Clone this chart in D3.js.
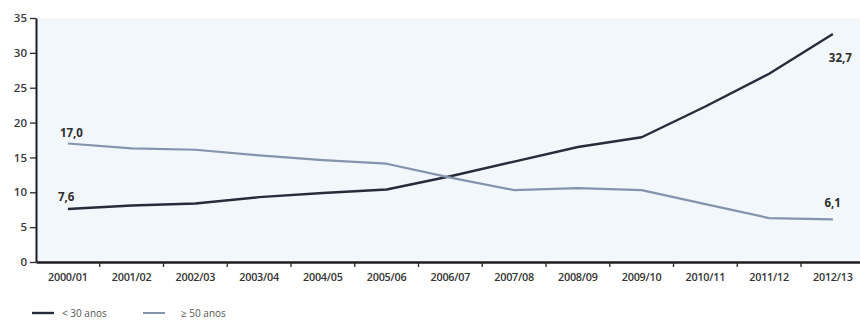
<!DOCTYPE html>
<html>
<head>
<meta charset="utf-8">
<script src="https://cdn.jsdelivr.net/npm/d3@7"></script>
<style>
  html, body { margin: 0; padding: 0; background: #ffffff; }
  svg { display: block; }
  text { font-family: "Open Sans", "DejaVu Sans", sans-serif; }
</style>
</head>
<body>
<svg id="chart" width="860" height="321"></svg>
<script>
// School years on the horizontal axis
const years = ["2000/01", "2001/02", "2002/03", "2003/04", "2004/05", "2005/06", "2006/07",
               "2007/08", "2008/09", "2009/10", "2010/11", "2011/12", "2012/13"];

// Share (%) per age group
const under30 = [7.6, 8.1, 8.4, 9.3, 9.9, 10.4, 12.3, 14.4, 16.5, 17.9, 22.3, 27.0, 32.7];
const over50  = [17.0, 16.3, 16.1, 15.3, 14.6, 14.1, 12.1, 10.3, 10.6, 10.3, 8.3, 6.3, 6.1];

const yTicks = [0, 5, 10, 15, 20, 25, 30, 35];

const seriesNames = ["< 30 anos", "\u2265 50 anos"];
const seriesColors = ["#252c3a", "#8494ad"];

const svg = d3.select("#chart");
const plotLeft = 36, plotTop = 18, plotBottom = 262, step = 63.75;

const x = d3.scaleBand()
  .domain(years)
  .range([plotLeft, plotLeft + step * years.length])
  .padding(0);

const y = d3.scaleLinear().domain([0, 35]).range([plotBottom, plotTop]);

const ptLocale = d3.formatLocale({ decimal: ",", thousands: ".", grouping: [3], currency: ["", "€"] });
const fmt = ptLocale.format(".1f");

// Plot background
svg.append("rect")
  .attr("x", plotLeft).attr("y", plotTop)
  .attr("width", 860 - plotLeft).attr("height", plotBottom - plotTop)
  .attr("fill", "#f2f7fb");

// Lines
const line = d3.line()
  .x((d, i) => x(years[i]) + x.bandwidth() / 2)
  .y(d => y(d));

[under30, over50].forEach((vals, k) => {
  svg.append("path")
    .datum(vals)
    .attr("fill", "none")
    .attr("stroke", seriesColors[k])
    .attr("stroke-width", k === 0 ? 2.4 : 2.2)
    .attr("stroke-linejoin", "round")
    .attr("d", line);
});

// Y axis
const yAxis = svg.append("g")
  .attr("transform", `translate(${plotLeft},0)`)
  .call(d3.axisLeft(y).tickValues(yTicks).tickSize(6).tickSizeOuter(0).tickPadding(3));
yAxis.select(".domain").attr("stroke", "#1d1d1f").attr("stroke-width", 2);
yAxis.selectAll(".tick line").attr("stroke", "#2a2a2a").attr("stroke-width", 1.3);
yAxis.selectAll(".tick text")
  .attr("font-size", 11.5).attr("font-weight", 600).attr("fill", "#3a3a3a");

// X axis
const xAxis = svg.append("g")
  .attr("transform", `translate(0,${plotBottom})`)
  .call(d3.axisBottom(x).tickSize(0).tickPadding(11));
xAxis.select(".domain").attr("stroke", "#1d1d1f").attr("stroke-width", 2.6);
xAxis.selectAll(".tick text")
  .attr("font-size", 10.8).attr("font-weight", 600).attr("fill", "#333")
  .attr("letter-spacing", -0.2);

// Small ticks at the category boundaries
svg.append("g")
  .selectAll("line")
  .data(years.slice(1))
  .join("line")
  .attr("x1", d => x(d)).attr("x2", d => x(d))
  .attr("y1", plotBottom).attr("y2", plotBottom + 5)
  .attr("stroke", "#2a2a2a").attr("stroke-width", 1.3);

// End-point value labels
const cx = i => x(years[i]) + x.bandwidth() / 2;
const last = years.length - 1;
const valueLabels = [
  { i: 0, v: over50[0], dx: -8, dy: -6, anchor: "start" },
  { i: 0, v: under30[0], dx: -10, dy: -8, anchor: "start" },
  { i: last, v: under30[last], dx: 19, dy: 28, anchor: "end" },
  { i: last, v: over50[last], dx: 8, dy: -12, anchor: "end" }
];
svg.append("g")
  .selectAll("text")
  .data(valueLabels)
  .join("text")
  .attr("x", d => cx(d.i) + d.dx)
  .attr("y", d => y(d.v) + d.dy)
  .attr("text-anchor", d => d.anchor)
  .attr("font-size", 11.5).attr("font-weight", 700).attr("fill", "#2e2e2e")
  .text(d => fmt(d.v));

// Legend
const legend = svg.append("g").attr("transform", "translate(32,313)");
const legendX = [0, 111];
seriesNames.forEach((name, k) => {
  const g = legend.append("g").attr("transform", `translate(${legendX[k]},0)`);
  g.append("line")
    .attr("x1", 0).attr("x2", 22).attr("y1", 0).attr("y2", 0)
    .attr("stroke", seriesColors[k]).attr("stroke-width", k === 0 ? 2.4 : 2);
  g.append("text")
    .attr("x", k === 0 ? 30 : 38).attr("y", 4)
    .attr("font-size", 10).attr("fill", "#555")
    .text(name);
});
</script>
</body>
</html>
